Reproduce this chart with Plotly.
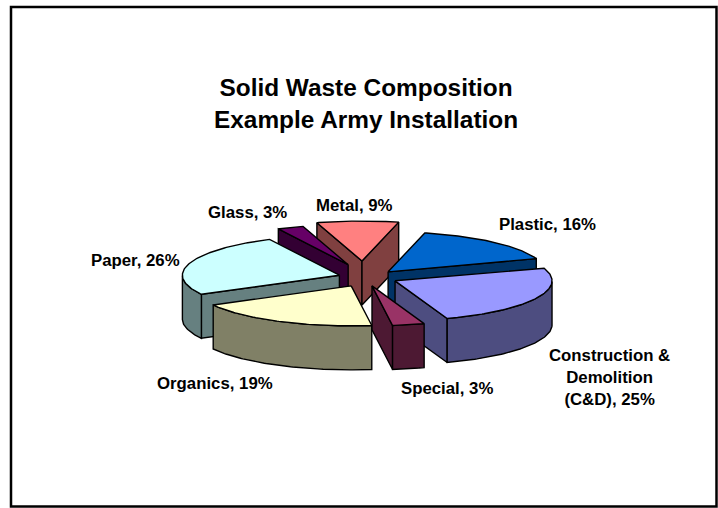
import numpy as np
import plotly.graph_objects as go

# Data (clockwise from Metal)
categories = ["Metal", "Plastic", "Construction &<br>Demolition<br>(C&D)", "Special", "Organics", "Paper", "Glass"]
label_percent = [9, 16, 25, 3, 19, 26, 3]
shares = [8.4, 15.9, 25.0, 3.3, 19.2, 25.6, 2.7]
top_colors = ["#FF8080", "#0066CC", "#9999FF", "#993366", "#FFFFCC", "#CCFFFF", "#660066"]
side_colors = ["#804040", "#003366", "#4D4D80", "#4D1933", "#808066", "#668080", "#330033"]
explode = [65, 30, 30, 33, 37, 30, 54]
explode_skew = [-3.7, 0, 0, 6.5, 0, 0, 0]
label_xy = [(354, 205), (547, 224), (609, 377), (447, 388), (215, 383), (135, 260), (247, 212)]

# Projection of the tilted pie
W, H = 718, 508
CX, CY, RX, RY, DEPTH = 368, 277.5, 157, 40, 44
START = -16.7
LINE = dict(color="black", width=1.4)

fig = go.Figure()


def poly(xs, ys, color):
    xs = list(xs) + [xs[0]]
    ys = list(ys) + [ys[0]]
    fig.add_trace(go.Scatter(x=xs, y=ys, mode="lines", fill="toself", fillcolor=color,
                             line=LINE, hoverinfo="skip", showlegend=False))


total = sum(shares)
edges = START + np.concatenate([[0], np.cumsum(shares)]) * 360 / total
slices = []
for i in range(len(shares)):
    a, b = edges[i], edges[i + 1]
    mid = np.radians((a + b) / 2 + explode_skew[i])
    ax = CX + explode[i] * np.sin(mid)
    ay = CY - explode[i] * np.cos(mid) * RY / RX
    slices.append((np.cos(mid), i, a, b, ax, ay))

for _, i, a, b, ax, ay in sorted(slices, key=lambda s: -s[0]):
    t = np.radians(np.linspace(a, b, 90))
    px = ax + RX * np.sin(t)
    py = ay - RY * np.cos(t)
    # radial walls
    if np.sin(t[0]) < 0:
        poly([ax, px[0], px[0], ax], [ay, py[0], py[0] + DEPTH, ay + DEPTH], side_colors[i])
    if np.sin(t[-1]) > 0:
        poly([ax, px[-1], px[-1], ax], [ay, py[-1], py[-1] + DEPTH, ay + DEPTH], side_colors[i])
    # outer rim, only the part facing the viewer
    front = np.cos(t) < 0
    if front.any():
        rx, ry = px[front], py[front]
        poly(list(rx) + list(rx[::-1]), list(ry) + list(ry[::-1] + DEPTH), side_colors[i])
    # top face
    poly([ax] + list(px), [ay] + list(py), top_colors[i])

annotations = [
    dict(x=365.5, y=103, text="<b>Solid Waste Composition<br>Example Army Installation</b>",
         showarrow=False, xref="x", yref="y",
         font=dict(family="Liberation Sans", size=24.4, color="black"), align="center"),
]
for name, pct, (lx, ly) in zip(categories, label_percent, label_xy):
    annotations.append(dict(x=lx, y=ly, text=f"<b>{name}, {pct}%</b>", showarrow=False,
                            xref="x", yref="y", align="center",
                            font=dict(family="Liberation Sans", size=16.8, color="black")))

fig.update_layout(
    width=W, height=H, margin=dict(l=0, r=0, t=0, b=0),
    paper_bgcolor="white", plot_bgcolor="white", showlegend=False,
    xaxis=dict(range=[0, W], visible=False, fixedrange=True),
    yaxis=dict(range=[H, 0], visible=False, fixedrange=True),
    annotations=annotations,
    shapes=[dict(type="rect", xref="x", yref="y", x0=11, y0=7, x1=716.5, y1=506.5,
                 line=dict(color="black", width=2.5))],
)
fig.write_html("out.html", config={"displayModeBar": False},
               post_script="document.body.style.margin='0';document.body.style.overflow='hidden';")
